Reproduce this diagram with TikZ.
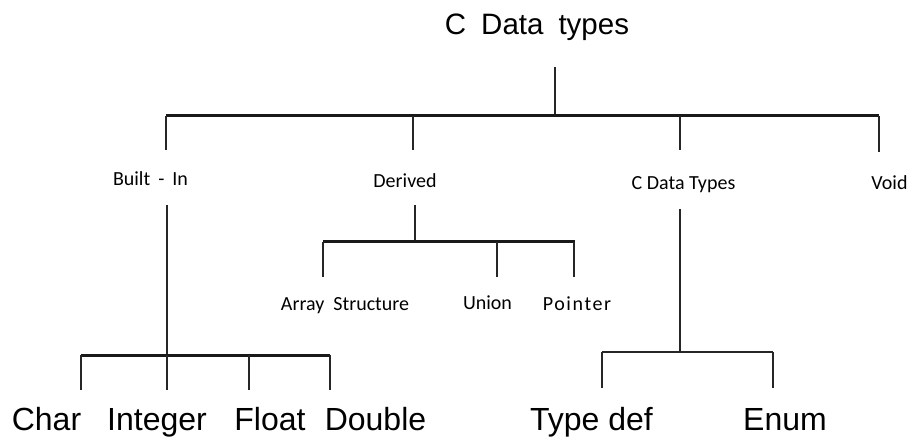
\documentclass[tikz,border=0pt]{standalone}
\usepackage{fontspec}
\setmainfont{Liberation Sans}
\newfontfamily\smallfam{Carlito}
\begin{document}
\begin{tikzpicture}[x=1pt,y=-1pt,
  bigtext/.style={anchor=base,inner sep=0pt,font=\fontsize{32}{36}\selectfont},
  titletext/.style={anchor=base,inner sep=0pt,font=\fontsize{29.5}{34}\selectfont},
  smalltext/.style={anchor=base,inner sep=0pt,font=\smallfam\fontsize{20}{24}\selectfont},
  stem/.style={line width=1.8pt,black!85},
  bar/.style={line width=3pt,black!90},
  thinbar/.style={line width=2.2pt,black!85}]
\useasboundingbox (0,0) rectangle (912,438);

% labels
\node[titletext] (root) at (537,35) {C\hspace{15pt}Data\hspace{15pt}types};
\node[smalltext] (builtin) at (150.5,186) {Built\hspace{8pt}-\hspace{8pt}In};
\node[smalltext] (derived) at (405,188) {Derived};
\node[smalltext] (cdt) at (683.5,190) {C Data Types};
\node[smalltext] (void) at (889.5,190) {Void};
\node[smalltext] (arrstr) at (345,310) {Array\ \ Structure};
\node[smalltext] (union) at (487.5,309) {Union};
\node[smalltext,font=\smallfam\addfontfeature{LetterSpace=8}\fontsize{20}{24}\selectfont] (pointer) at (577,310) {Pointer};
\node[bigtext] (char) at (46.5,430) {Char};
\node[bigtext] (integer) at (157,430) {Integer};
\node[bigtext] (float) at (270,430) {Float};
\node[bigtext] (double) at (375.5,430) {Double};
\node[bigtext] (typedef) at (591.5,430) {Type def};
\node[bigtext] (enum) at (785,430) {Enum};

% junction points
\coordinate (rootTop) at (555,67);
\coordinate (rootJ) at (555,116);
\coordinate (mainL) at (166,116);
\coordinate (mainR) at (879,116);
\coordinate (jBuilt) at (166,116);  \coordinate (eBuilt) at (166,150);
\coordinate (jDer) at (413,116);    \coordinate (eDer) at (413,150);
\coordinate (jCdt) at (680,116);    \coordinate (eCdt) at (680,150);
\coordinate (jVoid) at (879,116);   \coordinate (eVoid) at (879,152);

\coordinate (bTop) at (167,205);    \coordinate (bJ) at (167,355);
\coordinate (bL) at (81,355);       \coordinate (bR) at (330,355);
\coordinate (bChar) at (81,390);    \coordinate (bInt) at (167,390);
\coordinate (jFloat) at (249,355);  \coordinate (bFloat) at (249,390);
\coordinate (bDouble) at (330,390);

\coordinate (dTop) at (415,205);    \coordinate (dJ) at (415,242);
\coordinate (dL) at (323,242);      \coordinate (dR) at (575,242);
\coordinate (dArr) at (323,277);
\coordinate (jUnion) at (497,242);  \coordinate (dUnion) at (497,277);
\coordinate (jPtr) at (574,242);    \coordinate (dPtr) at (574,277);

\coordinate (cTop) at (680,209);    \coordinate (cJ) at (680,352);
\coordinate (cL) at (602,352);      \coordinate (cR) at (773,352);
\coordinate (cTd) at (602,388);     \coordinate (cEn) at (773,388);

% top level
\draw[stem] (rootTop) -- (rootJ);
\draw[bar] (mainL) -- (mainR);
\draw[stem] (jBuilt) -- (eBuilt);
\draw[stem] (jDer) -- (eDer);
\draw[stem] (jCdt) -- (eCdt);
\draw[stem] (jVoid) -- (eVoid);

% built-in branch
\draw[stem] (bTop) -- (bJ);
\draw[bar] (bL) -- (bR);
\draw[stem] (bL) -- (bChar);
\draw[stem] (bJ) -- (bInt);
\draw[stem] (jFloat) -- (bFloat);
\draw[stem] (bR) -- (bDouble);

% derived branch
\draw[stem] (dTop) -- (dJ);
\draw[bar] (dL) -- (dR);
\draw[stem] (dL) -- (dArr);
\draw[stem] (jUnion) -- (dUnion);
\draw[stem] (jPtr) -- (dPtr);

% user-defined branch
\draw[stem] (cTop) -- (cJ);
\draw[thinbar] (cL) -- (cR);
\draw[stem] (cL) -- (cTd);
\draw[stem] (cR) -- (cEn);
\end{tikzpicture}
\end{document}
